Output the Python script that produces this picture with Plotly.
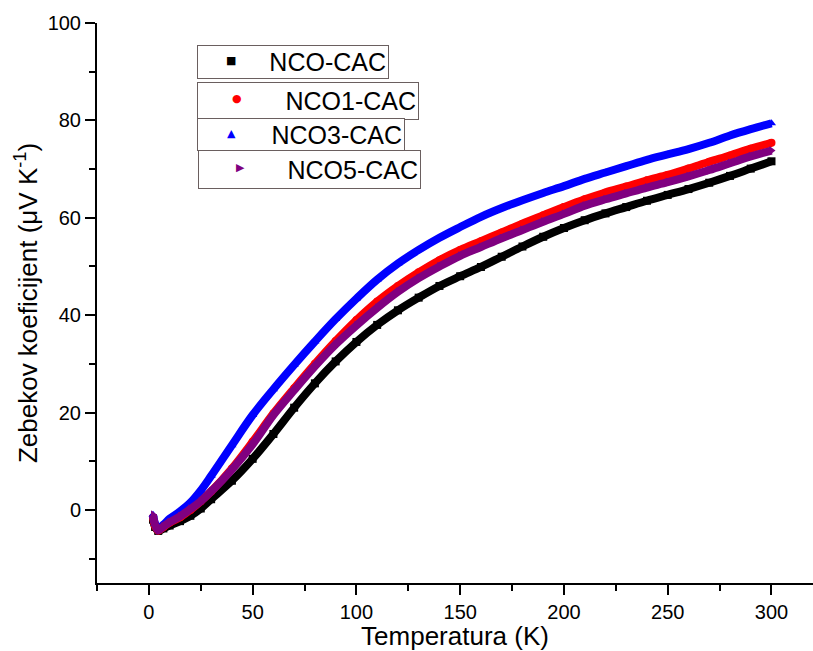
import plotly.graph_objects as go

T = [2, 3, 4.5, 7, 10, 15, 20, 25, 30, 40, 50, 60, 70, 80, 90, 100, 110, 120, 130, 140,
     150, 160, 170, 180, 190, 200, 210, 220, 230, 240, 250, 260, 270, 280, 290, 300]

nco = [-2, -3.5, -4.3, -3.8, -3.2, -2.3, -1.2, 0.3, 2.2, 6, 10.5, 15.6, 21, 26, 30.5, 34.5,
       38, 41, 43.6, 46, 48, 49.9, 52, 54.1, 56.1, 57.9, 59.5, 60.9, 62.2, 63.5, 64.7, 65.9,
       67.2, 68.6, 70.1, 71.6]
nco1 = [-1.5, -3.3, -4.2, -3.5, -2.6, -1.5, 0, 1.8, 3.8, 8.5, 14, 19.8, 25, 30, 34.7, 39,
        42.8, 46, 48.8, 51.3, 53.4, 55.2, 57, 58.8, 60.5, 62.2, 63.8, 65.2, 66.4, 67.7, 68.8,
        70.1, 71.5, 72.8, 74.2, 75.4]
nco3 = [-1, -2.8, -3.8, -3, -1.8, -0.3, 1.5, 4, 7, 13.3, 19.5, 24.8, 29.8, 34.6, 39.2, 43.4,
        47.3, 50.6, 53.4, 55.9, 58.1, 60.2, 62, 63.6, 65.1, 66.5, 68, 69.3, 70.6, 71.9, 73, 74.1,
        75.4, 76.9, 78.2, 79.4]
nco5 = [-1, -3, -4.2, -3.4, -2.5, -1.3, 0.2, 1.8, 3.8, 8.3, 13.5, 19.5, 24.6, 29.5, 34, 37.9,
        41.5, 44.8, 47.6, 50, 52.2, 54, 55.8, 57.5, 59.2, 60.8, 62.5, 63.8, 65, 66.2, 67.3,
        68.5, 69.8, 71.2, 72.6, 73.8]

names = ["NCO-CAC", "NCO1-CAC", "NCO3-CAC", "NCO5-CAC"]
colors = ["#000000", "#ff0000", "#0000ff", "#800080"]
symbols = ["square", "circle", "triangle-up", "triangle-right"]
glyphs = ["\u25A0", "\u25CF", "\u25B2", "\u25B6"]
data = [nco, nco1, nco3, nco5]

W, H = 813, 651
ML, MR, MT, MB = 97, 0, 23, 68
PW, PH = W - ML - MR, H - MT - MB

fig = go.Figure()
for name, ys, col, sym in zip(names, data, colors, symbols):
    fig.add_trace(go.Scatter(x=T, y=ys, mode="lines", line=dict(color=col, width=8, shape="spline"),
                             showlegend=False, hoverinfo="skip"))
    fig.add_trace(go.Scatter(x=T, y=ys, mode="markers", name=name, showlegend=False,
                             marker=dict(color=col, symbol=sym, size=8, line=dict(width=0))))

font = "Liberation Sans, Arial, sans-serif"

# legend boxes (pixel layout of each separate key box)
boxes = [(197, 45, 389, 75), (197, 82, 419, 116), (197, 118, 405, 147), (198, 150, 421, 185)]
sym_pos = [(231, 61), (237, 99), (231, 133), (240, 168)]
for name, col, g, (l, t, r, b), (sx, sy) in zip(names, colors, glyphs, boxes, sym_pos):
    fig.add_annotation(xref="paper", yref="paper", x=(l - ML) / PW, y=(H - MB - t) / PH,
                       xanchor="left", yanchor="top", showarrow=False,
                       text=name, align="right", valign="middle",
                       width=r - l - 6, height=b - t - 2, borderpad=2,
                       bordercolor="#6a5f5f", borderwidth=1, bgcolor="white",
                       font=dict(family=font, size=25, color="black"))
    fig.add_annotation(xref="paper", yref="paper", x=(sx - ML) / PW, y=(H - MB - sy) / PH,
                       xanchor="center", yanchor="middle", showarrow=False, text=g,
                       font=dict(family="DejaVu Sans", size=11, color=col))

fig.update_layout(
    width=W, height=H,
    margin=dict(l=ML, r=MR, t=MT, b=MB, autoexpand=False),
    plot_bgcolor="white", paper_bgcolor="white",
    font=dict(family=font, size=20, color="black"),
    showlegend=False,
    xaxis=dict(range=[-25, 320], tickvals=[0, 50, 100, 150, 200, 250, 300], automargin=False,
               ticks="outside", ticklen=10, tickwidth=2, tickcolor="black",
               showline=True, linewidth=2, linecolor="black", showgrid=False, zeroline=False,
               minor=dict(tickvals=[-25, 25, 75, 125, 175, 225, 275, 325], ticks="outside",
                          ticklen=6, tickwidth=2, tickcolor="black"),
               title=dict(text="Temperatura (K)", font=dict(size=26), standoff=1),
               tickfont=dict(size=20)),
    yaxis=dict(range=[-15, 100], tickvals=[0, 20, 40, 60, 80, 100], automargin=False,
               ticks="outside", ticklen=10, tickwidth=2, tickcolor="black",
               showline=True, linewidth=2, linecolor="black", showgrid=False, zeroline=False,
               minor=dict(tickvals=[-10, 10, 30, 50, 70, 90], ticks="outside",
                          ticklen=6, tickwidth=2, tickcolor="black"),
               title=dict(text="Zebekov koeficijent (μV K<sup>-1</sup>)", font=dict(size=26), standoff=3),
               tickfont=dict(size=20)),
)

fig.write_html("out.html", config={"displayModeBar": False},
               post_script="document.body.style.margin='0';")
